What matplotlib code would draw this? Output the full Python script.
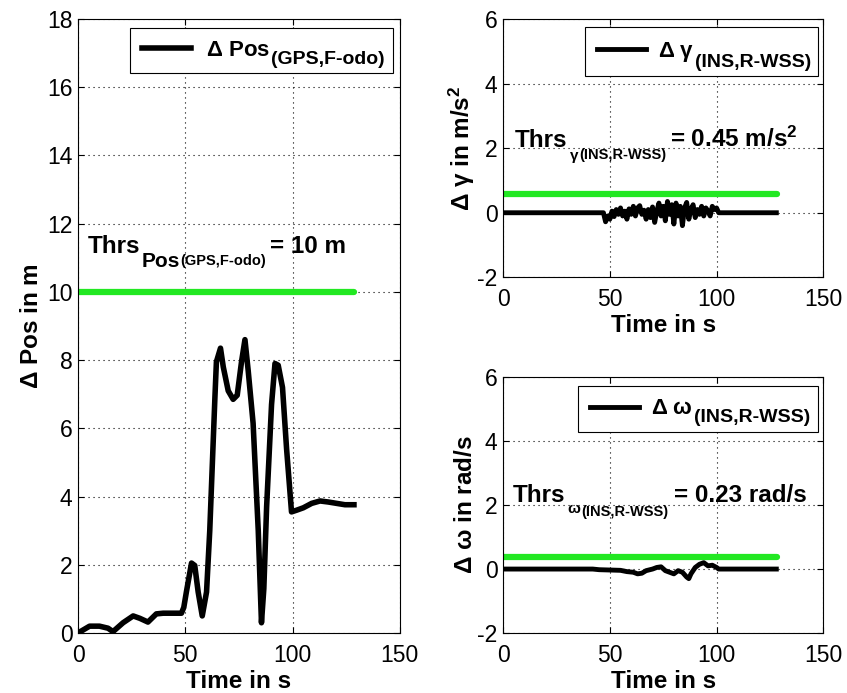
import matplotlib
matplotlib.use('Agg')
import matplotlib.pyplot as plt
import numpy as np

plt.rcParams['font.family'] = ['Liberation Sans', 'DejaVu Sans']
plt.rcParams['mathtext.fontset'] = 'custom'
plt.rcParams['mathtext.rm'] = 'Liberation Sans:bold'
plt.rcParams['mathtext.it'] = 'Liberation Sans:bold'
plt.rcParams['mathtext.bf'] = 'Liberation Sans:bold'
plt.rcParams['axes.unicode_minus'] = False

GREEN = '#22e822'

# Position difference GPS vs front odometry
t_pos = [0, 5.4, 10, 14, 16.3, 21, 25.7, 28.8, 32.6, 36.5, 39.7, 48.2, 49.3, 50.5,
         52.9, 54.4, 56, 57.9, 59.9, 61.4, 63.8, 64.5, 66.4, 67.7, 70, 72.3, 74.2,
         76.2, 77.8, 79.3, 81.6, 84, 85.5, 86.6, 87.9, 90.2, 91.8, 93.3, 95.3, 97.2,
         99.5, 101.9, 105, 108.9, 112.8, 116.6, 120.5, 124.4, 128.6]
d_pos = [0, 0.2, 0.2, 0.14, 0.04, 0.3, 0.5, 0.43, 0.32, 0.56, 0.58, 0.58, 0.75, 1.2,
         2.05, 1.98, 1.2, 0.5, 1.2, 3.0, 6.9, 7.95, 8.35, 7.8, 7.1, 6.85, 6.97,
         7.95, 8.6, 7.7, 6.15, 3.0, 0.3, 1.3, 3.7, 6.7, 7.9, 7.85, 7.2, 5.4,
         3.55, 3.6, 3.67, 3.8, 3.87, 3.84, 3.8, 3.76, 3.76]
thr_pos = 10.0

# differences INS vs rear wheel speed sensors
t_gam = [0, 47, 48, 49, 50, 51, 52, 53, 54, 55, 56, 57, 58, 59, 60, 61, 62, 63, 64,
         65, 66, 67, 68, 69, 70, 71, 72, 73, 74, 75, 76, 77, 78, 79, 80, 81, 82, 83,
         84, 85, 86, 87, 88, 89, 90, 91, 92, 93, 94, 95, 96, 97, 98, 99, 100, 101, 128]
d_gam = [0, 0, -0.28, -0.1, -0.2, 0.05, -0.12, 0.1, -0.05, 0.15, -0.1, 0.05, -0.2,
         0.12, -0.05, 0.2, -0.1, 0.15, 0.22, -0.05, 0.08, -0.2, 0.1, -0.15, 0.18,
         -0.3, 0.05, 0.3, -0.1, 0.2, -0.25, 0.35, -0.05, 0.25, -0.35, 0.3, -0.1,
         0.2, -0.4, 0.15, 0.32, -0.2, 0.1, 0.25, -0.15, 0.1, -0.05, 0.2, -0.1, 0.15,
         0.05, -0.1, 0.2, 0.1, 0.15, 0, 0]
thr_gam = 0.57

t_om = [0, 42, 45, 50, 55, 58, 61, 63, 65, 67, 70, 72, 74, 76, 78, 80, 82, 84, 86, 87,
        88, 90, 92, 94, 96, 98, 100, 101, 128]
d_om = [0, 0, -0.02, -0.03, -0.04, -0.08, -0.1, -0.15, -0.13, -0.05, 0.0, 0.05,
        0.07, -0.05, -0.1, -0.15, -0.05, -0.1, -0.25, -0.3, -0.15, 0.05, 0.15,
        0.2, 0.1, 0.12, 0.05, 0, 0]
thr_om = 0.38
t_end = 128.5


def style_axes(ax, ylim, yticks):
    ax.set_xlim(0, 150)
    ax.set_ylim(*ylim)
    ax.set_xticks([0, 50, 100, 150])
    ax.set_yticks(yticks)
    ax.grid(True, color='black', linestyle=(0, (1, 3.5)), linewidth=0.8)
    ax.tick_params(direction='in', top=True, right=True, labelsize=16.5, length=4)
    ax.tick_params(axis='x', pad=8)
    ax.tick_params(axis='y', pad=4)
    ax.set_xlabel('Time in s', fontsize=17.5, fontweight='bold', labelpad=2)
    for s in ax.spines.values():
        s.set_linewidth(0.8)


def thrs_text(ax, x, y, sym, sub, value, xval, sym_size, d1, d2):
    # "Thrs" with nested subscripts, then the value text
    t1 = ax.text(x, y, 'Thrs', fontsize=17.5, fontweight='bold', va='baseline')
    t2 = ax.annotate(sym, xy=(1, y), xycoords=(t1, 'data'), xytext=(1, -d1),
                     textcoords='offset pixels', fontsize=sym_size, fontweight='bold',
                     va='baseline')
    ax.annotate(sub, xy=(1, y), xycoords=(t2, 'data'), xytext=(0, -d2),
                textcoords='offset pixels', fontsize=10.5, fontweight='bold',
                va='baseline')
    ax.text(xval, y, value, fontsize=17.5, fontweight='bold', va='baseline')


def add_legend(ax, line, main, sub, x0, width, top, textpad=0.7):
    # legend box stretched to the reference width, subscript added after the label
    leg = ax.legend([line], [main], loc='upper left', mode='expand',
                    bbox_to_anchor=(x0, 0, width, top), borderaxespad=0,
                    prop={'weight': 'bold', 'size': 16}, fancybox=False, framealpha=1,
                    edgecolor='black', handlelength=2.2, handletextpad=textpad,
                    borderpad=0.55)
    leg.get_frame().set_linewidth(0.8)
    ax.annotate(sub, xy=(1, 0), xycoords=leg.get_texts()[0], xytext=(1, -7),
                textcoords='offset pixels', ha='left', va='bottom',
                fontsize=14, fontweight='bold', zorder=6)


fig = plt.figure(figsize=(8.47, 6.93), dpi=100)
ax1 = fig.add_axes([0.0921, 0.0866, 0.380, 0.886])
ax2 = fig.add_axes([0.594, 0.600, 0.378, 0.372])
ax3 = fig.add_axes([0.594, 0.0866, 0.378, 0.369])

# left: position
ax1.plot([0, t_end], [thr_pos, thr_pos], color=GREEN, linewidth=4.5, solid_capstyle='round')
l1, = ax1.plot(t_pos, d_pos, color='black', linewidth=4)
style_axes(ax1, (0, 18), range(0, 19, 2))
ax1.set_ylabel(r'$\Delta$ Pos in m', fontsize=17.5, fontweight='bold', labelpad=3)
thrs_text(ax1, 4.7, 11.14, 'Pos', '(GPS,F-odo)', '= 10 m', 89.4, 15, 14, 12)
add_legend(ax1, l1, r'$\Delta$ Pos', '(GPS,F-odo)', 0.161, 0.817, 1 - 9 / 614)

# right top: gamma
ax2.plot([0, t_end], [thr_gam, thr_gam], color=GREEN, linewidth=4.5, solid_capstyle='round')
l2, = ax2.plot(t_gam, d_gam, color='black', linewidth=3.5)
style_axes(ax2, (-2, 6), range(-2, 7, 2))
ax2.set_ylabel(r'$\Delta$ $\gamma$ in m/s$^2$', fontsize=17.5, fontweight='bold', labelpad=0)
thrs_text(ax2, 5.6, 2.03, r'$\gamma$', '(INS,R-WSS)', r'= 0.45 m/s$^2$', 78.3, 11, 13, 12)
add_legend(ax2, l2, r'$\Delta\;\gamma$', '(INS,R-WSS)', 0.256, 0.728, 1 - 8 / 258, 0.55)

# right bottom: omega
ax3.plot([0, t_end], [thr_om, thr_om], color=GREEN, linewidth=4.5, solid_capstyle='round')
l3, = ax3.plot(t_om, d_om, color='black', linewidth=3.5)
style_axes(ax3, (-2, 6), range(-2, 7, 2))
ax3.set_ylabel(r'$\Delta$ $\omega$ in rad/s', fontsize=17.5, fontweight='bold', labelpad=0)
thrs_text(ax3, 4.7, 2.1, r'$\omega$', '(INS,R-WSS)', '= 0.23 rad/s', 80, 11, 11, 14)
add_legend(ax3, l3, r'$\Delta\;\omega$', '(INS,R-WSS)', 0.234, 0.75, 1 - 9 / 256, 0.55)

fig.savefig('out.png', dpi=100)
